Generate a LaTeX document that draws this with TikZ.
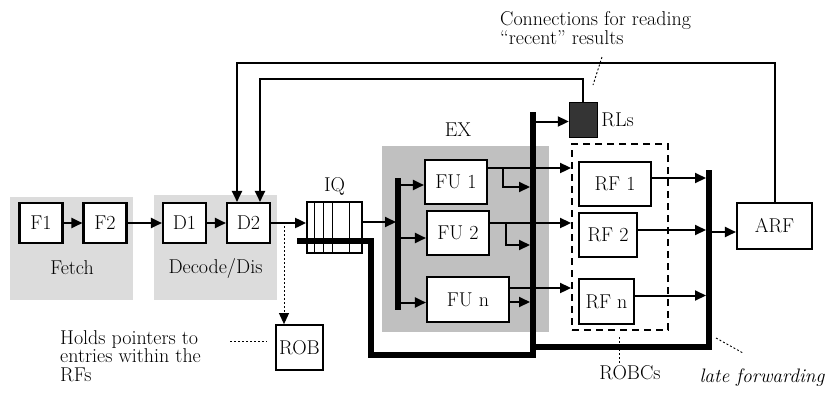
\documentclass[tikz,border=0pt]{standalone}
\usepackage{xcolor}
\usetikzlibrary{arrows.meta,positioning}

\definecolor{stagegray}{RGB}{220,220,220}
\definecolor{exgray}{RGB}{192,192,192}
\definecolor{rlgray}{RGB}{52,52,52}

\begin{document}
\begin{tikzpicture}[
    x=1pt,
    y=-1pt,
    >={Triangle[length=11pt,width=10pt]},
    every node/.style={font=\fontsize{20}{18.5}\selectfont,inner sep=0pt},
    box/.style={draw,line width=2.1pt,fill=white},
    stage/.style={fill=stagegray},
    wire/.style={line width=2pt},
    bus/.style={line width=6pt},
    note/.style={line width=0.9pt,dash pattern=on 2pt off 2pt}
]

\useasboundingbox (0,0) rectangle (827,392);

% Stage backgrounds
\node[stage,minimum width=123pt,minimum height=103pt] (fetchbg) at (71.5,248.5) {};
\node[stage,minimum width=123pt,minimum height=105pt] (decodebg) at (215.5,247.5) {};
\node[fill=exgray,minimum width=167pt,minimum height=186pt] (exbg) at (465.5,239) {};

\node (fetchlbl) at (72,268) {Fetch};
\node (declbl) at (215.5,268) {Decode/Dis};
\node (exlbl) at (458,130) {EX};

% Front end
\node[box,minimum width=43pt,minimum height=40pt] (f1) at (41,223) {F1};
\node[box,minimum width=43pt,minimum height=40pt] (f2) at (105,223) {F2};
\node[box,minimum width=43pt,minimum height=40pt] (d1) at (184.5,223) {D1};
\node[box,minimum width=43pt,minimum height=40pt] (d2) at (248.5,223) {D2};

\draw[wire,->] (f1) -- (f2);
\draw[wire,->] (f2) -- (d1);
\draw[wire,->] (d1) -- (d2);

% Issue queue
\node[box,line width=1.8pt,minimum width=55pt,minimum height=51pt] (iq) at (334.5,227.5) {};
\foreach \dx in {8,17,26,43}
    \draw[line width=1.1pt] ([xshift=\dx pt]iq.north west) -- ([xshift=\dx pt]iq.south west);
\node[above=6pt of iq] (iqlbl) {IQ};

\draw[wire,->] (d2.east) -- (d2.east -| iq.west);

% ROB
\node[box,line width=1.8pt,minimum width=47pt,minimum height=45pt] (rob) at (299.5,347.5) {ROB};
\coordinate (robtap) at (284,226);
\draw[note,->] (robtap) -- (robtap |- rob.north);

% Buses
\coordinate (disptop) at (398,178);
\coordinate (dispbot) at (398,310);
\coordinate (bustop) at (533,112);
\coordinate (busbot) at (533,355);
\coordinate (iqout) at (297,241);
\coordinate (iqdrop) at (371,355);
\coordinate (latetop) at (709,170);
\coordinate (latebot) at (709,347);

\draw[line width=5.5pt] (disptop) -- (dispbot);
\draw[bus] (iqout) -| (iqdrop) -- (busbot) -- (bustop);
\draw[bus] (latetop) -- (latebot) -- (latebot -| bustop);

\coordinate (dsp) at (396,222);
\draw[wire,->] (iq.east |- dsp) -- (dsp);

% Functional units
\node[box,minimum width=62pt,minimum height=44pt] (fu1) at (456,182) {FU 1};
\node[box,minimum width=62pt,minimum height=44pt] (fu2) at (458,233) {FU 2};
\node[box,minimum width=82pt,minimum height=45pt] (fun) at (468,299.5) {FU n};

\draw[wire,->] ([yshift=-3pt]fu1.west -| disptop) -- ([yshift=-3pt]fu1.west);
\draw[wire,->] ([yshift=-5pt]fu2.west -| disptop) -- ([yshift=-5pt]fu2.west);
\draw[wire,->] ([yshift=-3pt]fun.west -| disptop) -- ([yshift=-3pt]fun.west);

% ROB columns
\node[draw,line width=1.9pt,dash pattern=on 7pt off 5pt,minimum width=96pt,minimum height=186pt] (robcs) at (620,237) {};
\node[box,minimum width=72pt,minimum height=44pt] (rf1) at (615,184) {RF 1};
\node[box,minimum width=58pt,minimum height=44pt] (rf2) at (608,235) {RF 2};
\node[box,minimum width=55pt,minimum height=45pt] (rfn) at (606.5,301.5) {RF n};

% Results out of the FUs
\coordinate (fu1tap) at (503,168);
\coordinate (fu1bus) at (530,187);
\coordinate (fu2tap) at (506,223);
\coordinate (fu2bus) at (530,245);
\draw[wire,->] ([yshift=14pt]fu1.east) -- ([yshift=14pt]fu1.east -| robcs.west);
\draw[wire,->] (fu1tap) |- (fu1bus);
\draw[wire,->] ([yshift=10pt]fu2.east) -- ([yshift=10pt]fu2.east -| robcs.west);
\draw[wire,->] (fu2tap) |- (fu2bus);
\draw[wire,->] ([yshift=11.5pt]fun.east) -- ([yshift=11.5pt]fun.east -| robcs.west);
\draw[wire,->] ([yshift=-2.5pt]fun.east) -- ([yshift=-2.5pt,xshift=-3pt]fun.east -| bustop);

% Recent-result latches
\node[draw,fill=rlgray,minimum width=28pt,minimum height=35pt] (rls) at (583,119.5) {};
\node[right=4pt of rls] (rlslbl) {RLs};
\draw[wire,->] ([yshift=-2pt]rls.west -| bustop) -- ([yshift=-2pt]rls.west);

% Architectural register file
\node[box,minimum width=75pt,minimum height=46pt] (arf) at (774.5,226) {ARF};

\draw[wire,->] ([yshift=6pt]rf1.east) -- ([yshift=6pt,xshift=-3pt]rf1.east -| latetop);
\draw[wire,->] ([yshift=5pt]rf2.east) -- ([yshift=5pt,xshift=-3pt]rf2.east -| latetop);
\draw[wire,->] ([yshift=6pt]rfn.east) -- ([yshift=6pt,xshift=-3pt]rfn.east -| latetop);
\draw[wire,->] ([yshift=-6pt]arf.west -| latetop) -- ([yshift=-6pt]arf.west);

% Feedback into D2
\coordinate (fbout) at (237,63);
\coordinate (fbin) at (260,79);
\draw[wire,->] (arf.north) |- (fbout) -- (fbout |- d2.north);
\draw[wire,->] (rls.north) |- (fbin) -- (fbin |- d2.north);

% Annotations
\node[anchor=west,align=left] (conn) at (500,28) {Connections for reading\\``recent'' results};
\coordinate (conntip) at (602,57);
\coordinate (connend) at (593,85);
\draw[note] (conntip) -- (connend);

\node[anchor=west,align=left] (holds) at (60,356) {Holds pointers to\\entries within the\\RFs};
\coordinate (holdsend) at (230,341);
\draw[note,shorten >=8pt] (holdsend) -- (holdsend -| rob.west);

\node (robclbl) at (630,373) {ROBCs};
\coordinate (robctip) at (619,337);
\draw[note,shorten >=3pt] (robctip) -- (robctip |- robclbl.north);

\node[font=\fontsize{19.5}{18}\selectfont\itshape] (latelbl) at (762,378) {late forwarding};
\coordinate (latetip) at (716,338);
\coordinate (lateend) at (743,353);
\draw[note] (latetip) -- (lateend);

\end{tikzpicture}
\end{document}
